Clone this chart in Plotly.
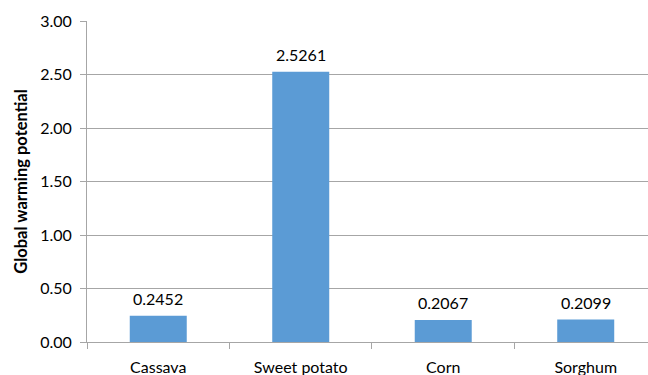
import plotly.graph_objects as go

crops = ["Cassava", "Sweet potato", "Corn", "Sorghum"]
gwp = [0.2452, 2.5261, 0.2067, 0.2099]
y_ticks = [0, 0.5, 1.0, 1.5, 2.0, 2.5, 3.0]

FONT = "Lato, Carlito, Calibri, sans-serif"
BAR_COLOR = "#5B9BD5"
AXIS_COLOR = "#A6A6A6"
GRID_COLOR = "#A6A6A6"

fig = go.Figure(
    go.Bar(
        x=crops,
        y=gwp,
        marker=dict(color=BAR_COLOR, line=dict(width=0)),
        width=0.4,
    )
)

# value labels above each bar
for c, v in zip(crops, gwp):
    fig.add_annotation(
        x=c, y=v, text=f"{v:.4f}", showarrow=False,
        yanchor="bottom", yshift=6,
        font=dict(family=FONT, size=16, color="#000000"),
    )

fig.update_layout(
    width=648, height=375,
    margin=dict(l=87, r=0, t=21, b=33),
    paper_bgcolor="white", plot_bgcolor="white",
    showlegend=False,
    font=dict(family=FONT, size=16, color="#000000"),
    xaxis=dict(
        showline=True, linecolor=AXIS_COLOR, linewidth=1,
        ticks="outside", tickson="boundaries", ticklen=6,
        tickcolor=AXIS_COLOR, showgrid=False,
        tickfont=dict(family=FONT, size=16),
        ticklabelstandoff=11,
        range=[-0.5, 3.437],
    ),
    yaxis=dict(
        range=[0, 3.0], tickvals=y_ticks,
        ticktext=[f"{t:.2f}" for t in y_ticks],
        showline=True, linecolor=AXIS_COLOR, linewidth=1,
        ticks="outside", ticklen=6, tickcolor=AXIS_COLOR,
        showgrid=True, gridcolor=GRID_COLOR, gridwidth=1,
        zeroline=False,
        tickfont=dict(family=FONT, size=16),
        ticklabelstandoff=5,
        title=dict(text="<b>Global warming potential</b>",
                   font=dict(family=FONT, size=16.5), standoff=8),
    ),
)

fig.write_html("out.html")
